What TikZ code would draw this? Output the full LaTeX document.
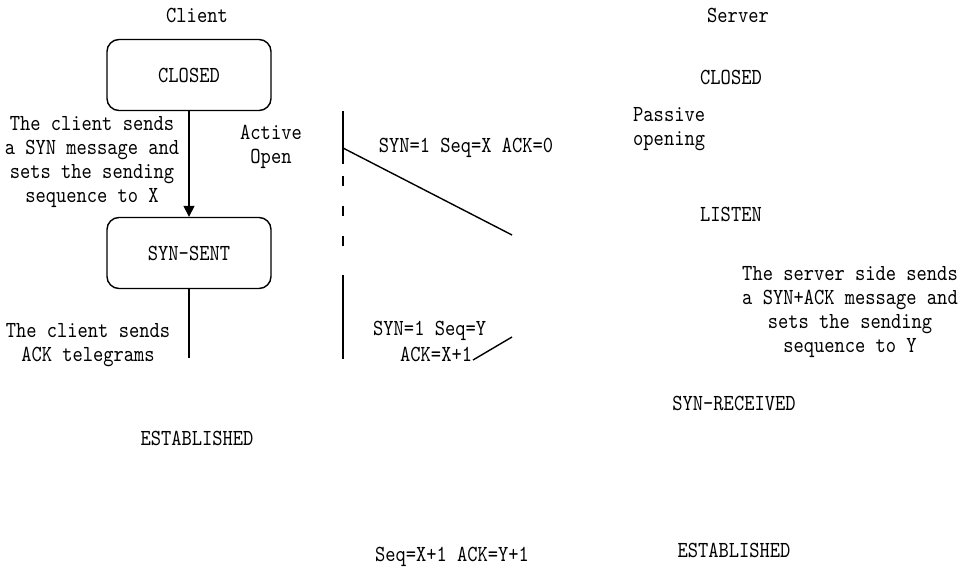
\documentclass[tikz,border=0pt]{standalone}
\usepackage{fontspec}
\setmonofont{lmmono10-regular}[Extension=.otf, FakeStretch=0.85]
\usetikzlibrary{arrows.meta}
\begin{document}
\begin{tikzpicture}[x=1pt,y=-1pt,
  every node/.style={font=\ttfamily\fontsize{23}{24}\selectfont, inner sep=0pt},
  statebox/.style={draw, line width=1.4pt, rounded corners=12pt, minimum width=164pt, minimum height=71pt},
  lbl/.style={align=center},
  conn/.style={line width=1.4pt},
  arr/.style={conn, -{Triangle[length=11pt,width=11pt]}}]
\useasboundingbox (0,0) rectangle (965,569);
% titles
\node (client) at (197,15) {Client};
\node (server) at (738,15) {Server};
% client states
\node[statebox] (cclosed) at (189,75) {CLOSED};
\node[statebox] (csent) at (189,253) {SYN-SENT};
\node (cest) at (197,438) {ESTABLISHED};
\coordinate (cend) at (189,358);
\draw[arr] (cclosed.south) -- (csent.north);
\draw[conn] (csent.south) -- (cend);
% client labels
\node[lbl] (csyn) at (92,162) {The client sends\\a SYN message and\\sets the sending\\sequence to X};
\node[lbl] (cack) at (88,345) {The client sends\\ACK telegrams};
\node[lbl] (active) at (271,147) {Active\\Open};
% vertical line
\coordinate (v0) at (343,111);
\coordinate (v1) at (343,164);
\coordinate (v2) at (343,176);
\coordinate (v3) at (343,186);
\coordinate (v4) at (343,206);
\coordinate (v5) at (343,216);
\coordinate (v6) at (343,236);
\coordinate (v7) at (343,246);
\coordinate (v8) at (343,275);
\coordinate (v9) at (343,359);
\draw[conn] (v0) -- (v1) (v2) -- (v3) (v4) -- (v5) (v6) -- (v7) (v8) -- (v9);
% messages
\coordinate (m1a) at (343,148);
\coordinate (m1b) at (512,235);
\draw[conn] (m1a) -- (m1b);
\node (msg1) at (466,148) {SYN=1 Seq=X ACK=0};
\coordinate (m2a) at (512,337);
\coordinate (m2b) at (473,360);
\draw[conn] (m2a) -- (m2b);
\node[anchor=west] (msg2a) at (373,331) {SYN=1 Seq=Y};
\node[anchor=west] (msg2b) at (400,354) {ACK=X+1};
\node (msg3) at (452,557) {Seq=X+1 ACK=Y+1};
% server side
\node (sclosed) at (731,77) {CLOSED};
\node[lbl, align=left, anchor=west] (passive) at (633,129) {Passive\\opening};
\node (slisten) at (731,214) {LISTEN};
\node[lbl] (ssyn) at (850,312) {The server side sends\\a SYN+ACK message and\\sets the sending\\sequence to Y};
\node (srecv) at (734,403) {SYN-RECEIVED};
\node (sest) at (734,550) {ESTABLISHED};
\end{tikzpicture}
\end{document}
